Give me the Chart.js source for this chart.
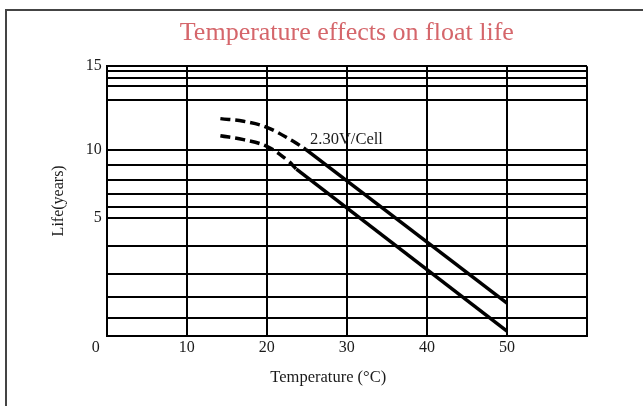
<!DOCTYPE html>
<html>
<head>
<meta charset="utf-8">
<title>Temperature effects on float life</title>
<script src="https://cdn.jsdelivr.net/npm/chart.js@4/dist/chart.umd.min.js"></script>
<style>
    html, body { margin: 0; padding: 0; background: #fff; overflow: hidden; }
    #wrap { position: relative; width: 643px; height: 406px; }
    #frame {
        position: absolute; left: 5px; top: 9px; width: 700px; height: 500px;
        border: 2px solid #444; pointer-events: none;
    }
</style>
</head>
<body>
<div id="wrap">
    <canvas id="lifeCanvas" width="643" height="406"></canvas>
    <div id="frame"></div>
</div>
<script>
// Float life vs temperature

// x axis (deg C)
const tempTicks = [0, 10, 20, 30, 40, 50, 60];
const tempLabels = ['', '10', '20', '30', '40', '50', ''];

// y axis (years) - gridlines are uneven on the original sheet
const lifeGrid = [0, 0.73, 1.65, 2.6, 3.81, 5, 5.81, 6.73, 7.78, 8.89, 10, 12.96, 13.8, 14.3, 14.74, 15];
const lifeLabeled = [5, 10, 15];
// where 0/5/10/15 sit along the axis height (fraction from bottom)
const lifeKnots = [0, 5, 10, 15];
const lifeKnotPos = [0, 0.438, 0.690, 1];

// upper curve
const upperDashTemp = [14.2, 17.1, 20, 23.3, 24.9];
const upperDashLife = [11.86, 11.7, 11.34, 10.5, 10.0];
const upperSolidTemp = [24.9, 50];
const upperSolidLife = [10.0, 1.37];

// lower curve
const lowerDashTemp = [14.2, 17.1, 20, 22.5, 23.7];
const lowerDashLife = [10.84, 10.6, 10.2, 9.26, 8.56];
const lowerSolidTemp = [23.7, 50];
const lowerSolidLife = [8.56, 0.19];

const noteText = '2.30V/Cell';
const noteTemp = 25.4;
const noteLife = 10.6;

const serif = "'Liberation Serif', 'Times New Roman', serif";
const inkColor = '#000';
const textColor = '#1a1a1a';

// piecewise linear scale so 0-5-10-15 land where the sheet puts them
function lifeToFrac(v) {
    for (let i = 1; i < lifeKnots.length; i++) {
        if (v <= lifeKnots[i] || i === lifeKnots.length - 1) {
            const a = lifeKnots[i - 1], b = lifeKnots[i];
            const t = (v - a) / (b - a);
            return lifeKnotPos[i - 1] + t * (lifeKnotPos[i] - lifeKnotPos[i - 1]);
        }
    }
    return 0;
}
function fracToLife(f) {
    for (let i = 1; i < lifeKnotPos.length; i++) {
        if (f <= lifeKnotPos[i] || i === lifeKnotPos.length - 1) {
            const a = lifeKnotPos[i - 1], b = lifeKnotPos[i];
            const t = (f - a) / (b - a);
            return lifeKnots[i - 1] + t * (lifeKnots[i] - lifeKnots[i - 1]);
        }
    }
    return 0;
}

class PiecewiseScale extends Chart.LinearScale {
    getPixelForValue(value) {
        if (value === null || isNaN(value)) return NaN;
        return this.getPixelForDecimal(lifeToFrac(value));
    }
    getValueForPixel(pixel) {
        return fracToLife(this.getDecimalForPixel(pixel));
    }
}
PiecewiseScale.id = 'piecewise';
PiecewiseScale.defaults = Chart.LinearScale.defaults;
Chart.register(PiecewiseScale);

function toPoints(xs, ys) {
    return xs.map((x, i) => ({ x: x, y: ys[i] }));
}

function curve(xs, ys, dashed) {
    return {
        data: toPoints(xs, ys),
        borderColor: inkColor,
        borderWidth: 3.5,
        borderDash: dashed ? [10, 5] : [],
        borderCapStyle: 'butt',
        tension: dashed ? 0.4 : 0,
        pointRadius: 0,
        fill: false
    };
}

// "0" in the corner and the voltage note
const notesPlugin = {
    id: 'notes',
    afterDraw(chart) {
        const ctx = chart.ctx;
        const xs = chart.scales.x;
        const ys = chart.scales.y;
        ctx.save();
        ctx.fillStyle = textColor;
        ctx.font = '16px ' + serif;
        ctx.textAlign = 'right';
        ctx.textBaseline = 'middle';
        ctx.fillText('0', ys.right - 7, chart.chartArea.bottom + 12);

        ctx.font = '16.5px ' + serif;
        ctx.textAlign = 'left';
        ctx.fillText(noteText, xs.getPixelForValue(noteTemp), ys.getPixelForValue(noteLife));
        ctx.restore();
    }
};

new Chart(document.getElementById('lifeCanvas'), {
    type: 'line',
    data: {
        datasets: [
            curve(upperDashTemp, upperDashLife, true),
            curve(upperSolidTemp, upperSolidLife, false),
            curve(lowerDashTemp, lowerDashLife, true),
            curve(lowerSolidTemp, lowerSolidLife, false)
        ]
    },
    options: {
        responsive: false,
        animation: false,
        layout: { padding: { left: 0, right: 56, top: 0, bottom: 0 } },
        plugins: {
            legend: { display: false },
            tooltip: { enabled: false },
            title: {
                display: true,
                fullSize: false,
                text: 'Temperature effects on float life',
                color: '#d5666b',
                font: { family: serif, size: 26, weight: 'normal', lineHeight: 1.2 },
                padding: { top: 18, bottom: 17 }
            }
        },
        scales: {
            x: {
                type: 'linear',
                min: 0,
                max: 60,
                afterBuildTicks: (scale) => { scale.ticks = tempTicks.map(v => ({ value: v })); },
                afterFit: (scale) => { scale.height = 70.5; },
                ticks: {
                    autoSkip: false,
                    maxRotation: 0,
                    padding: 3,
                    color: textColor,
                    font: { family: serif, size: 16 },
                    callback: (v) => tempLabels[tempTicks.indexOf(v)] || ''
                },
                grid: { color: inkColor, lineWidth: 2, drawTicks: false },
                border: { color: inkColor, width: 2 },
                title: {
                    display: true,
                    // trailing spaces nudge the title left like on the sheet
                    text: 'Temperature (°C)         ',
                    color: textColor,
                    font: { family: serif, size: 16.5 },
                    padding: { top: 4, bottom: 18 }
                }
            },
            y: {
                type: 'piecewise',
                min: 0,
                max: 15,
                afterBuildTicks: (scale) => { scale.ticks = lifeGrid.map(v => ({ value: v })); },
                afterFit: (scale) => { scale.width = 106.7; },
                ticks: {
                    autoSkip: false,
                    padding: 5,
                    color: textColor,
                    font: { family: serif, size: 16 },
                    callback: (v) => lifeLabeled.includes(v) ? String(v) : ''
                },
                grid: { color: inkColor, lineWidth: 2, drawTicks: false },
                border: { color: inkColor, width: 2 },
                title: {
                    display: true,
                    text: 'Life(years)',
                    color: textColor,
                    font: { family: serif, size: 16 },
                    padding: { top: 49, bottom: 0 }
                }
            }
        }
    },
    plugins: [notesPlugin]
});
</script>
</body>
</html>
